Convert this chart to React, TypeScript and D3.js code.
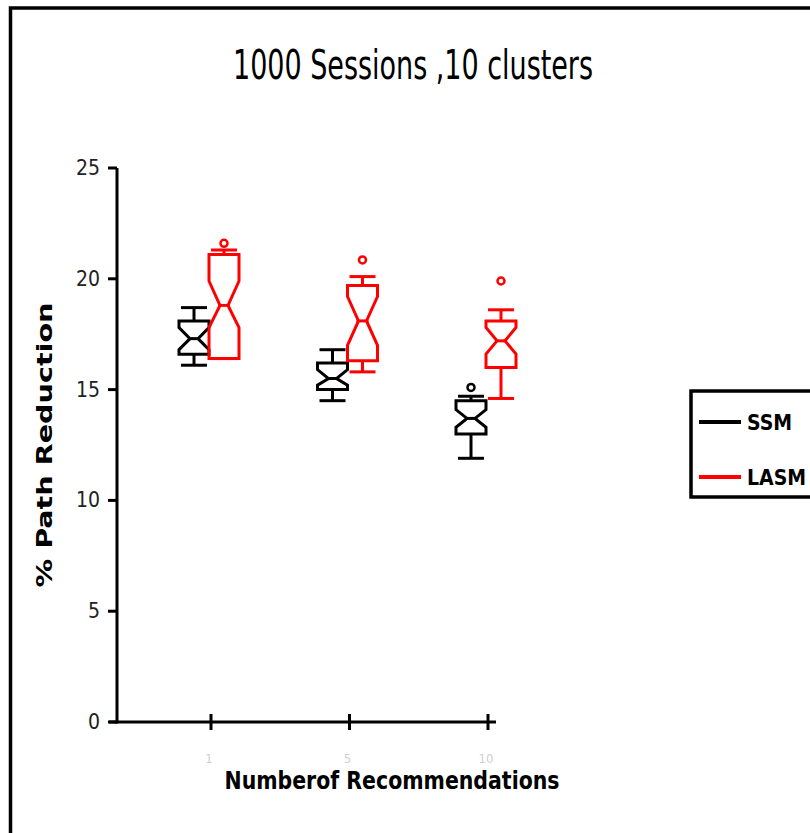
import React from 'react';
import * as d3 from 'd3';

const categories = ['1', '5', '10'];
const seriesNames = ['SSM', 'LASM'];
const seriesColors = ['#000000', '#ff0000'];

// per category: [whiskerLow, q1, notchLow, median, notchHigh, q3, whiskerHigh]
const ssmStats = [
  [16.1, 16.6, 16.8, 17.3, 17.8, 18.1, 18.7],
  [14.5, 15.0, 15.2, 15.5, 15.9, 16.2, 16.8],
  [11.9, 13.0, 13.3, 13.7, 14.1, 14.5, 14.7],
];
const lasmStats = [
  [16.4, 16.4, 17.8, 18.8, 19.9, 21.1, 21.3],
  [15.8, 16.3, 17.0, 18.1, 19.2, 19.7, 20.1],
  [14.6, 16.0, 16.6, 17.2, 17.8, 18.1, 18.6],
];
const ssmOutliers = [[], [], [15.1]];
const lasmOutliers = [[21.6], [20.85], [19.9]];
const yTicks = [0, 5, 10, 15, 20, 25];

const narrow = "'Liberation Sans Narrow', 'DejaVu Sans Condensed', Arial, sans-serif";

function Box({ cx, s, color, y, outliers }) {
  const [wl, q1, nl, med, nh, q3, wh] = s;
  const hw = 15;
  const inner = 4;
  const cap = 13;
  const path = [
    [cx - hw, y(q3)],
    [cx - hw, y(nh)],
    [cx - inner, y(med)],
    [cx - hw, y(nl)],
    [cx - hw, y(q1)],
    [cx + hw, y(q1)],
    [cx + hw, y(nl)],
    [cx + inner, y(med)],
    [cx + hw, y(nh)],
    [cx + hw, y(q3)],
  ];
  const line = d3.line()(path) + 'Z';
  return (
    <g stroke={color} strokeWidth={3} fill="none">
      <line x1={cx} x2={cx} y1={y(q3)} y2={y(wh)} />
      <line x1={cx - cap} x2={cx + cap} y1={y(wh)} y2={y(wh)} />
      <line x1={cx} x2={cx} y1={y(q1)} y2={y(wl)} />
      <line x1={cx - cap} x2={cx + cap} y1={y(wl)} y2={y(wl)} />
      <path d={line} />
      <line x1={cx - inner - 2} x2={cx + inner + 2} y1={y(med)} y2={y(med)} />
      {outliers.map((o, i) => (
        <circle key={i} cx={cx} cy={y(o)} r={3.5} strokeWidth={2.5} />
      ))}
    </g>
  );
}

export default function App() {
  const y = d3.scaleLinear().domain([0, 25]).range([722, 168]);
  const x = d3.scalePoint().domain(categories).range([211, 488]);
  const offsets = [-17, 13];
  const stats = [ssmStats, lasmStats];
  const outs = [ssmOutliers, lasmOutliers];

  return (
    <svg width={810} height={833} style={{ position: 'absolute', left: 0, top: 0, background: '#fff' }}>
      <rect x={10.5} y={8} width={900} height={900} fill="#fff" stroke="#000" strokeWidth={3.5} />

      <text x={413} y={79} textAnchor="middle" fontFamily={narrow} fontSize={40}
        textLength={360} lengthAdjust="spacingAndGlyphs">1000 Sessions ,10 clusters</text>

      {/* y axis */}
      <line x1={117} x2={117} y1={y(25)} y2={y(0) + 1.5} stroke="#000" strokeWidth={3} />
      {yTicks.map(t => (
        <g key={t}>
          <line x1={108} x2={117} y1={y(t)} y2={y(t)} stroke="#000" strokeWidth={3} />
          <text x={100} y={y(t) + 7} textAnchor="end" fontFamily={narrow} fontSize={21} fill="#222">{t}</text>
        </g>
      ))}

      {/* x axis */}
      <line x1={109} x2={496} y1={y(0)} y2={y(0)} stroke="#000" strokeWidth={3} />
      {categories.map(c => (
        <g key={c}>
          <line x1={x(c)} x2={x(c)} y1={y(0) - 8} y2={y(0) + 8} stroke="#000" strokeWidth={3} />
          <text x={x(c) - 2} y={y(0) + 41} textAnchor="middle" fontFamily={narrow} fontSize={13} fill="#cfcfcf">{c}</text>
        </g>
      ))}

      <text x={392} y={789} textAnchor="middle" fontFamily={narrow} fontSize={25} fontWeight="bold"
        textLength={335} lengthAdjust="spacingAndGlyphs">Numberof Recommendations</text>

      <text transform="translate(52,445) rotate(-90)" textAnchor="middle" fontFamily={narrow} fontSize={21}
        fontWeight="bold" textLength={285} lengthAdjust="spacingAndGlyphs">% Path Reduction</text>

      {categories.map((c, i) =>
        seriesNames.map((s, k) => (
          <Box key={c + s} cx={x(c) + offsets[k]} s={stats[k][i]} color={seriesColors[k]} y={y} outliers={outs[k][i]} />
        ))
      )}

      {/* legend */}
      <rect x={691} y={391} width={200} height={106} fill="#fff" stroke="#000" strokeWidth={3.5} />
      {seriesNames.map((s, k) => (
        <g key={s}>
          <line x1={699} x2={741} y1={422 + k * 55} y2={422 + k * 55} stroke={seriesColors[k]} strokeWidth={4} />
          <text x={747} y={430 + k * 55} fontFamily={narrow} fontSize={21} fontWeight="bold">{s}</text>
        </g>
      ))}
    </svg>
  );
}
